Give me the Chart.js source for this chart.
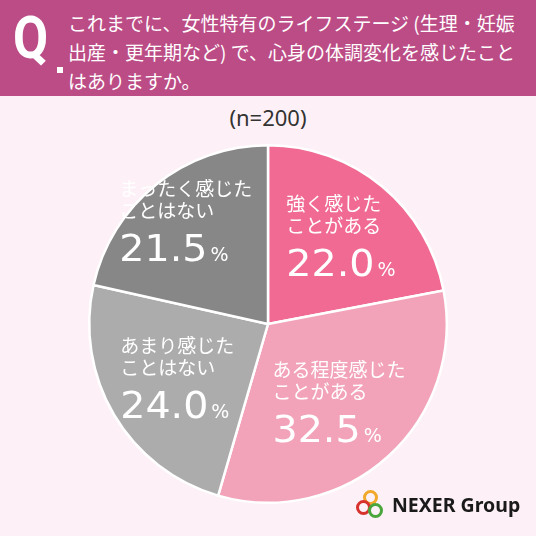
<!DOCTYPE html>
<html lang="ja">
<head>
<meta charset="utf-8">
<script src="https://cdn.jsdelivr.net/npm/chart.js@4.4.1/dist/chart.umd.min.js"></script>
<style>
  html, body { margin: 0; padding: 0; }
  body { width: 536px; height: 536px; background: #fdf1f7; position: relative; overflow: hidden;
         font-family: "Noto Sans CJK JP", "Noto Sans", sans-serif; }
  .header { position: absolute; left: 0; top: 0; width: 536px; height: 96px; background: #bc4c86; }
  .q { position: absolute; left: 13px; top: 8px; color: #fff; font: 700 60px/1 Roboto, sans-serif;
       transform: scaleX(0.85); transform-origin: left top; }
  .qdot { position: absolute; left: 57px; top: 67px; width: 6px; height: 6px; background: #fff; }
  .qtext { position: absolute; left: 68px; top: 8px; color: #fff; font-size: 19px; line-height: 29px;
           white-space: nowrap; }
  .n { position: absolute; left: 0; width: 536px; top: 104px; text-align: center; color: #333;
       font: 400 22px/1.2 "Noto Sans", sans-serif; }
  canvas { position: absolute; left: 0; top: 0; }
  .logo { position: absolute; left: 354px; top: 490px; width: 170px; height: 32px; }
  .logo .txt { position: absolute; left: 38px; top: 3px; font: 700 19.5px/1.2 "Noto Sans", sans-serif; color: #1a1a1a; white-space: nowrap; }
  .ring { position: absolute; width: 15px; height: 15px; border-radius: 50%; border: 3px solid; box-sizing: border-box; }
</style>
</head>
<body>
<div class="header">
  <div class="q">Q</div>
  <div class="qdot"></div>
  <div class="qtext">これまでに、女性特有のライフステージ (生理・妊娠<br>出産・更年期など) で、心身の体調変化を感じたこと<br>はありますか。</div>
</div>
<div class="n">(n=200)</div>
<canvas id="chart" width="536" height="536"></canvas>
<div class="logo">
  <div class="ring" style="left:9px;top:0px;border-color:#f0a92a"></div>
  <div class="ring" style="left:2px;top:10px;border-color:#d8322f"></div>
  <div class="ring" style="left:14px;top:13px;border-color:#4aa63c"></div>
  <div class="txt">NEXER Group</div>
</div>
<script>
// データ
const labels = [
  ["強く感じた", "ことがある"],
  ["ある程度感じた", "ことがある"],
  ["あまり感じた", "ことはない"],
  ["まったく感じた", "ことはない"]
];
const values = [22.0, 32.5, 24.0, 21.5];
const colors = ["#f06a93", "#f2a3b9", "#acacac", "#878787"];

// ラベル位置（半径に対する比率）
const labelRadius = [0.64, 0.59, 0.59, 0.735];

const LABEL_FONT = '400 19px "Noto Sans CJK JP", sans-serif';
const NUM_FONT = '400 37px "DejaVu Sans", sans-serif';
const NUM_STRETCH = 1.07;
const PCT_FONT = '400 19px "DejaVu Sans", sans-serif';

// スライス内のラベル描画
const sliceLabels = {
  id: "sliceLabels",
  afterDatasetsDraw(chart) {
    const ctx = chart.ctx;
    const meta = chart.getDatasetMeta(0);
    meta.data.forEach((arc, i) => {
      const mid = (arc.startAngle + arc.endAngle) / 2;
      const r = arc.outerRadius * labelRadius[i];
      const cx = arc.x + Math.cos(mid) * r;
      const cy = arc.y + Math.sin(mid) * r;
      const num = values[i].toFixed(1);

      ctx.save();
      ctx.fillStyle = "#fff";
      ctx.textAlign = "left";
      ctx.textBaseline = "alphabetic";

      ctx.font = LABEL_FONT;
      const lineW = Math.max(...labels[i].map(t => ctx.measureText(t).width));
      ctx.font = NUM_FONT;
      const numW = ctx.measureText(num).width * NUM_STRETCH;
      ctx.font = PCT_FONT;
      const pctW = ctx.measureText("%").width;
      const blockW = Math.max(lineW, numW + 3 + pctW);
      const left = cx - blockW / 2;
      const top = cy - 41;

      ctx.font = LABEL_FONT;
      labels[i].forEach((t, k) => ctx.fillText(t, left, top + 16 + k * 22));

      ctx.save();
      ctx.translate(left, top + 81);
      ctx.scale(NUM_STRETCH, 1);
      ctx.font = NUM_FONT;
      ctx.fillText(num, 0, 0);
      ctx.restore();

      ctx.font = PCT_FONT;
      ctx.fillText("%", left + numW + 3, top + 81);
      ctx.restore();
    });
  }
};

new Chart(document.getElementById("chart"), {
  type: "pie",
  data: {
    labels: labels.map(l => l.join("")),
    datasets: [{
      data: values,
      backgroundColor: colors,
      borderColor: "#ffffff",
      borderWidth: 2.5
    }]
  },
  options: {
    responsive: false,
    animation: false,
    layout: { padding: { top: 144, bottom: 32, left: 87, right: 87 } },
    plugins: {
      legend: { display: false },
      tooltip: { enabled: false }
    }
  },
  plugins: [sliceLabels]
});
</script>
</body>
</html>
